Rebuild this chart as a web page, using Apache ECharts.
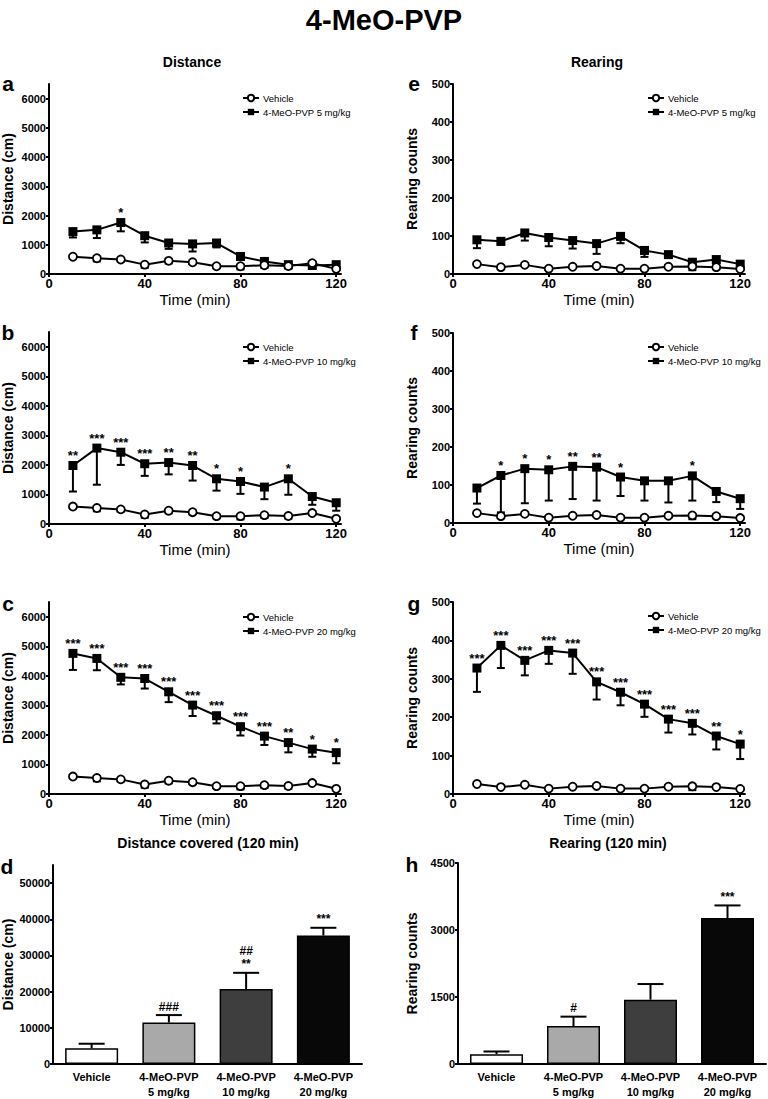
<!DOCTYPE html>
<html><head><meta charset="utf-8">
<script src="https://cdn.jsdelivr.net/npm/echarts@6/dist/echarts.min.js"></script>
<style>html,body{margin:0;padding:0;background:#fff}#c{width:768px;height:1099px}</style>
</head><body><div id="c"></div>
<script>
// ---------- DATA ----------
const timeMin = [10,20,30,40,50,60,70,80,90,100,110,120];
const timeTicks = [0,40,80,120];
const distTicks = [0,1000,2000,3000,4000,5000,6000];
const totalDistTicks = [0,10000,20000,30000,40000,50000];

const vehicleDist    = [590, 540, 495, 320, 450, 400, 265, 265, 300, 270, 370, 175];
const vehicleDistSem = [60, 110, 70, 110, 90, 60, 50, 110, 90, 90, 70, 40];
const dist5    = [1450, 1510, 1760, 1310, 1060, 1030, 1060, 600, 430, 320, 290, 320];
const dist5Sem = [200, 280, 300, 230, 200, 260, 150, 110, 110, 110, 90, 90];
const dist10    = [1980, 2570, 2430, 2040, 2080, 1980, 1530, 1440, 1250, 1530, 930, 720];
const dist10Sem = [880, 1240, 430, 410, 400, 510, 400, 420, 410, 540, 280, 270];
const dist20    = [4760, 4590, 3950, 3910, 3460, 3010, 2650, 2280, 1960, 1740, 1520, 1400];
const dist20Sem = [560, 400, 240, 340, 350, 370, 260, 300, 300, 330, 260, 360];

const vehicleRear    = [26, 18, 24, 14, 19, 21, 14, 14, 19, 20, 18, 13];
const vehicleRearSem = [3, 3, 3, 3, 3, 3, 3, 3, 4, 10, 3, 3];
const rear5    = [90, 86, 108, 96, 88, 80, 99, 62, 51, 31, 38, 26];
const rear5Sem = [22, 9, 20, 23, 21, 27, 18, 17, 5, 11, 11, 6];
const rear10    = [92, 125, 143, 140, 149, 147, 121, 111, 111, 124, 83, 64];
const rear10Sem = [41, 97, 91, 81, 86, 88, 50, 52, 57, 65, 28, 27];
const rear20    = [328, 387, 348, 374, 367, 292, 265, 234, 195, 184, 151, 130];
const rear20Sem = [62, 59, 39, 35, 54, 46, 34, 33, 35, 29, 35, 39];

const sigA = ["","","*","","","","","","","","",""];
const sigB = ["**","***","***","***","**","**","*","*","","*","",""];
const sigC = ["***","***","***","***","***","***","***","***","***","**","*","*"];
const sigE = ["","","","","","","","","","","",""];
const sigF = ["","*","*","*","**","**","*","","","*","",""];
const sigG = ["***","***","***","***","***","***","***","***","***","***","**","*"];

const barCats = ["Vehicle", "4-MeO-PVP\n5 mg/kg", "4-MeO-PVP\n10 mg/kg", "4-MeO-PVP\n20 mg/kg"];
const distTotal    = [4350, 11450, 20700, 35500];
const distTotalSem = [1250, 2070, 4500, 2150];
const distTotalSig = ["", "###", "##\n**", "***"];
const rearTotal    = [220, 850, 1440, 3270];
const rearTotalSem = [60, 210, 350, 280];
const rearTotalSig = ["", "#", "", "***"];

const seriesNames = ["Vehicle", "4-MeO-PVP 5 mg/kg", "4-MeO-PVP 10 mg/kg", "4-MeO-PVP 20 mg/kg"];

// ---------- STYLE ----------
const FONT = '"Liberation Sans", Arial, Helvetica, sans-serif';
const barColors = ['#ffffff', '#a9a9a9', '#3e3e3e', '#080808'];
const plain = v => String(v);

const chart = echarts.init(document.getElementById('c'), null, {renderer: 'svg', width: 768, height: 1099});

const grids = [], xAxes = [], yAxes = [], series = [], legends = [];

const axisLine = {show: true, onZero: false, lineStyle: {color: '#000', width: 2}};
const axisTick = {show: true, length: 3, lineStyle: {color: '#000', width: 2}};

function errRender(sig, capHalf, up, textSize) {
  return function (params, api) {
    const x = api.value(0), m = api.value(1), s = api.value(2);
    const p = api.coord([x, m]);
    const q = api.coord([x, up ? m + s : m - s]);
    const children = [
      {type: 'line', shape: {x1: p[0], y1: p[1], x2: q[0], y2: q[1]}, style: {stroke: '#000', lineWidth: 2}},
      {type: 'line', shape: {x1: q[0] - capHalf, y1: q[1], x2: q[0] + capHalf, y2: q[1]}, style: {stroke: '#000', lineWidth: 2}}
    ];
    const t = sig ? sig[params.dataIndex] : '';
    if (t) {
      const base = up ? q[1] : p[1];
      children.push({type: 'text', x: p[0], y: base - (up ? 2 : 3),
        style: {text: t, font: 'bold ' + textSize + 'px ' + FONT, fill: '#000', align: 'center', verticalAlign: 'bottom', lineHeight: textSize + 1}});
    }
    return {type: 'group', children: children};
  };
}

function linePanel(cfg) {
  const gi = grids.length;
  grids.push({left: cfg.left, top: cfg.top, width: 292, height: cfg.height});
  xAxes.push({
    gridIndex: gi, type: 'value', min: 0, max: 122,
    name: 'Time (min)', nameLocation: 'middle', nameGap: 18,
    nameTextStyle: {fontFamily: FONT, fontSize: 15, color: '#000'},
    axisLine: axisLine, axisTick: Object.assign({customValues: timeTicks}, axisTick),
    axisLabel: {customValues: timeTicks, formatter: plain, fontFamily: FONT, fontWeight: 'bold', fontSize: 13, color: '#000', margin: 3},
    splitLine: {show: false}
  });
  yAxes.push({
    gridIndex: gi, type: 'value', min: 0, max: cfg.yMax, interval: cfg.interval,
    name: cfg.yName, nameLocation: 'middle', nameGap: cfg.nameGap,
    nameTextStyle: {fontFamily: FONT, fontSize: 14, fontWeight: 'bold', color: '#000'},
    axisLine: axisLine,
    axisTick: cfg.yTicks ? Object.assign({customValues: cfg.yTicks}, axisTick) : axisTick,
    axisLabel: Object.assign(cfg.yTicks ? {customValues: cfg.yTicks} : {},
      {formatter: plain, fontFamily: FONT, fontWeight: 'bold', fontSize: 11, color: '#000', margin: 3}),
    splitLine: {show: false}
  });
  series.push({
    type: 'custom', xAxisIndex: gi, yAxisIndex: gi, z: 1,
    renderItem: errRender(null, 4, false, 13),
    encode: {x: 0, y: 1},
    data: timeMin.map((t, i) => [t, cfg.veh[i], cfg.vehSem[i]])
  });
  series.push({
    type: 'custom', xAxisIndex: gi, yAxisIndex: gi, z: 1,
    renderItem: errRender(cfg.sig, 4, false, 13),
    encode: {x: 0, y: 1},
    data: timeMin.map((t, i) => [t, cfg.drug[i], cfg.drugSem[i]])
  });
  series.push({
    name: seriesNames[0], type: 'line', xAxisIndex: gi, yAxisIndex: gi, z: 3,
    data: timeMin.map((t, i) => [t, cfg.veh[i]]),
    symbol: 'circle', symbolSize: 8, showAllSymbol: true,
    lineStyle: {color: '#000', width: 2},
    itemStyle: {color: '#fff', borderColor: '#000', borderWidth: 1.8},
    animation: false
  });
  series.push({
    name: cfg.drugName, type: 'line', xAxisIndex: gi, yAxisIndex: gi, z: 2,
    data: timeMin.map((t, i) => [t, cfg.drug[i]]),
    symbol: 'rect', symbolSize: 9, showAllSymbol: true,
    lineStyle: {color: '#000', width: 2},
    itemStyle: {color: '#000', borderColor: '#000', borderWidth: 0},
    animation: false
  });
  legends.push({
    left: cfg.legLeft, top: cfg.legTop, orient: 'vertical', itemGap: 4,
    itemWidth: 16, itemHeight: 8, selectedMode: false,
    textStyle: {fontFamily: FONT, fontSize: 9.5, color: '#000', padding: [0, 0, 0, -1]},
    data: [seriesNames[0], cfg.drugName]
  });
}

function barPanel(cfg) {
  const gi = grids.length;
  grids.push({left: cfg.left, top: cfg.top, width: cfg.width, height: cfg.height});
  xAxes.push({
    gridIndex: gi, type: 'category', data: barCats,
    axisLine: axisLine, axisTick: {show: false},
    axisLabel: {interval: 0, fontFamily: FONT, fontWeight: 'bold', fontSize: 11, color: '#000', lineHeight: 15, margin: 5}
  });
  yAxes.push({
    gridIndex: gi, type: 'value', min: 0, max: cfg.yMax, interval: cfg.interval,
    name: cfg.yName, nameLocation: 'middle', nameGap: cfg.nameGap,
    nameTextStyle: {fontFamily: FONT, fontSize: 14, fontWeight: 'bold', color: '#000'},
    axisLine: axisLine,
    axisTick: cfg.yTicks ? Object.assign({customValues: cfg.yTicks}, axisTick) : axisTick,
    axisLabel: Object.assign(cfg.yTicks ? {customValues: cfg.yTicks} : {},
      {formatter: plain, fontFamily: FONT, fontWeight: 'bold', fontSize: 11, color: '#000', margin: 3}),
    splitLine: {show: false}
  });
  series.push({
    type: 'custom', xAxisIndex: gi, yAxisIndex: gi, z: 1,
    renderItem: errRender(cfg.sig, 13, true, 12),
    encode: {x: 0, y: 1},
    data: cfg.values.map((v, i) => [i, v, cfg.sem[i]])
  });
  series.push({
    type: 'bar', xAxisIndex: gi, yAxisIndex: gi, z: 2, barWidth: 53,
    data: cfg.values.map((v, i) => ({value: v, itemStyle: {color: barColors[i]}})),
    itemStyle: {borderColor: '#000', borderWidth: 1.5},
    animation: false
  });
}

linePanel({left: 49, top: 84, height: 190, yMax: 6500, interval: 1000, yTicks: distTicks, yName: 'Distance (cm)', nameGap: 34,
  drugName: seriesNames[1], drug: dist5, drugSem: dist5Sem, sig: sigA, veh: vehicleDist, vehSem: vehicleDistSem, legLeft: 237, legTop: 88});
linePanel({left: 49, top: 332, height: 192, yMax: 6500, interval: 1000, yTicks: distTicks, yName: 'Distance (cm)', nameGap: 34,
  drugName: seriesNames[2], drug: dist10, drugSem: dist10Sem, sig: sigB, veh: vehicleDist, vehSem: vehicleDistSem, legLeft: 237, legTop: 337});
linePanel({left: 49, top: 602, height: 192, yMax: 6500, interval: 1000, yTicks: distTicks, yName: 'Distance (cm)', nameGap: 34,
  drugName: seriesNames[3], drug: dist20, drugSem: dist20Sem, sig: sigC, veh: vehicleDist, vehSem: vehicleDistSem, legLeft: 237, legTop: 607});
linePanel({left: 453, top: 84, height: 190, yMax: 500, interval: 100, yName: 'Rearing counts', nameGap: 34,
  drugName: seriesNames[1], drug: rear5, drugSem: rear5Sem, sig: sigE, veh: vehicleRear, vehSem: vehicleRearSem, legLeft: 642, legTop: 88});
linePanel({left: 453, top: 333, height: 190, yMax: 500, interval: 100, yName: 'Rearing counts', nameGap: 34,
  drugName: seriesNames[2], drug: rear10, drugSem: rear10Sem, sig: sigF, veh: vehicleRear, vehSem: vehicleRearSem, legLeft: 642, legTop: 337});
linePanel({left: 453, top: 602, height: 192, yMax: 500, interval: 100, yName: 'Rearing counts', nameGap: 34,
  drugName: seriesNames[3], drug: rear20, drugSem: rear20Sem, sig: sigG, veh: vehicleRear, vehSem: vehicleRearSem, legLeft: 642, legTop: 606});

barPanel({left: 52, top: 865, width: 310, height: 203, yMax: 55000, interval: 10000, yTicks: totalDistTicks,
  yName: 'Distance (cm)', nameGap: 38, values: distTotal, sem: distTotalSem, sig: distTotalSig});
barPanel({left: 458, top: 863, width: 308, height: 205, yMax: 4500, interval: 1500,
  yName: 'Rearing counts', nameGap: 39, values: rearTotal, sem: rearTotalSem, sig: rearTotalSig});

function txt(text, x, y, size, weight) {
  return {type: 'text', x: x, y: y, silent: true,
    style: {text: text, font: (weight || 'bold') + ' ' + size + 'px ' + FONT, fill: '#000', align: 'center', verticalAlign: 'middle'}};
}

const graphics = [
  txt('4-MeO-PVP', 384, 20, 29),
  txt('Distance', 192, 62, 14),
  txt('Rearing', 597, 62, 14),
  txt('Distance covered (120 min)', 208, 843, 14),
  txt('Rearing (120 min)', 608, 843, 14),
  txt('a', 8, 83, 21), txt('b', 8, 332, 21), txt('c', 8, 603, 21), txt('d', 7, 866, 21),
  txt('e', 414, 83, 21), txt('f', 414, 332, 21), txt('g', 414, 603, 21), txt('h', 412, 864, 21)
];

chart.setOption({
  animation: false,
  backgroundColor: '#fff',
  grid: grids, xAxis: xAxes, yAxis: yAxes, series: series, legend: legends,
  graphic: graphics
});
</script></body></html>
